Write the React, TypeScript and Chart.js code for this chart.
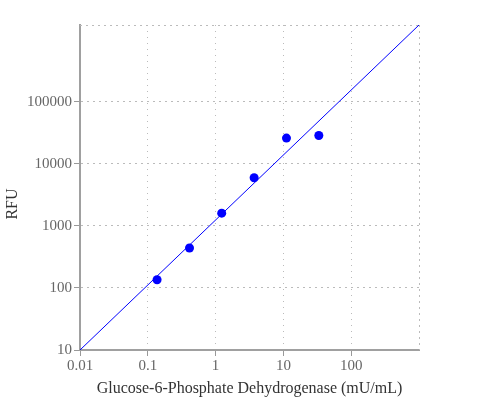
import React, { useEffect, useRef } from "react";
import { Chart, registerables } from "chart.js";

Chart.register(...registerables);

const concentration = [0.137, 0.412, 1.23, 3.7, 11.1, 33.3];
const rfu = [136, 442, 1610, 6000, 26100, 28800];
const fitX = [0.01, 1000];
const fitY = [10, 1740000];
const xTicks = [0.01, 0.1, 1, 10, 100];
const yTicks = [10, 100, 1000, 10000, 100000];
const xTitle = "Glucose-6-Phosphate Dehydrogenase (mU/mL)";
const yTitle = "RFU";

const FONT = "'Liberation Serif', 'Times New Roman', serif";

const framePlugin = {
  id: "frame",
  beforeDatasetsDraw(chart: any) {
    const { ctx, chartArea } = chart;
    ctx.save();
    ctx.strokeStyle = "#bbb";
    ctx.lineWidth = 1;
    ctx.setLineDash([2, 4]);
    ctx.beginPath();
    ctx.moveTo(chartArea.left, chartArea.top + 0.5);
    ctx.lineTo(chartArea.right, chartArea.top + 0.5);
    ctx.moveTo(chartArea.right + 0.5, chartArea.top);
    ctx.lineTo(chartArea.right + 0.5, chartArea.bottom);
    ctx.stroke();
    ctx.restore();
  },
  afterDraw(chart: any) {
    const { ctx } = chart;
    ctx.save();
    ctx.fillStyle = "#333";
    ctx.font = `16px ${FONT}`;
    ctx.textAlign = "center";
    ctx.textBaseline = "middle";
    ctx.translate(13, 204);
    ctx.rotate(-Math.PI / 2);
    ctx.fillText(yTitle, 0, 0);
    ctx.restore();
  },
};

export default function App() {
  const ref = useRef<HTMLCanvasElement>(null);
  useEffect(() => {
    document.body.style.margin = "0";
    const chart = new Chart(ref.current!, {
      type: "scatter",
      data: {
        datasets: [
          {
            type: "line",
            data: fitX.map((x, i) => ({ x, y: fitY[i] })),
            borderColor: "#0000ff",
            borderWidth: 1,
            pointRadius: 0,
            fill: false,
          } as any,
          {
            data: concentration.map((x, i) => ({ x, y: rfu[i] })),
            backgroundColor: "#0000ff",
            borderColor: "#0000ff",
            pointRadius: 4.5,
            borderWidth: 0,
          },
        ],
      },
      options: {
        animation: false,
        responsive: false,
        layout: { padding: { left: 0, right: 81, top: 25, bottom: 0 } },
        plugins: { legend: { display: false }, tooltip: { enabled: false } },
        scales: {
          x: {
            type: "logarithmic",
            min: 0.01,
            max: 1000,
            afterBuildTicks: (s: any) => {
              s.ticks = xTicks.map((v) => ({ value: v }));
            },
            afterFit: (s: any) => {
              s.height = 50;
            },
            ticks: {
              callback: (v: any) => String(v),
              color: "#666",
              font: { family: FONT, size: 15 },
              padding: 1,
              maxRotation: 0,
              autoSkip: false,
            },
            grid: {
              color: "#bbb",
              tickLength: 6,
              tickColor: "#999",
              tickBorderDash: [],
              tickWidth: 1,
            } as any,
            border: { display: true, color: "#a0a0a0", width: 2, dash: [1, 5] },
            title: {
              display: true,
              text: xTitle,
              color: "#333",
              font: { family: FONT, size: 16 },
              padding: { top: 0, bottom: 2 },
            },
          },
          y: {
            type: "logarithmic",
            min: 10,
            max: fitY[1],
            afterBuildTicks: (s: any) => {
              s.ticks = yTicks.map((v) => ({ value: v }));
            },
            afterFit: (s: any) => {
              s.width = 80;
            },
            ticks: {
              callback: (v: any) => String(v),
              color: "#666",
              font: { family: FONT, size: 15 },
              padding: 2,
              autoSkip: false,
            },
            grid: {
              color: "#bbb",
              tickLength: 6,
              tickColor: "#999",
              tickBorderDash: [],
              tickWidth: 1,
            } as any,
            border: { display: true, color: "#a0a0a0", width: 2, dash: [2, 4] },
          },
        },
      },
      plugins: [framePlugin],
    } as any);
    return () => chart.destroy();
  }, []);
  return (
    <div style={{ position: "fixed", left: 0, top: 0, width: 500, height: 400, background: "#fff" }}>
      <canvas ref={ref} width={500} height={400} />
    </div>
  );
}
